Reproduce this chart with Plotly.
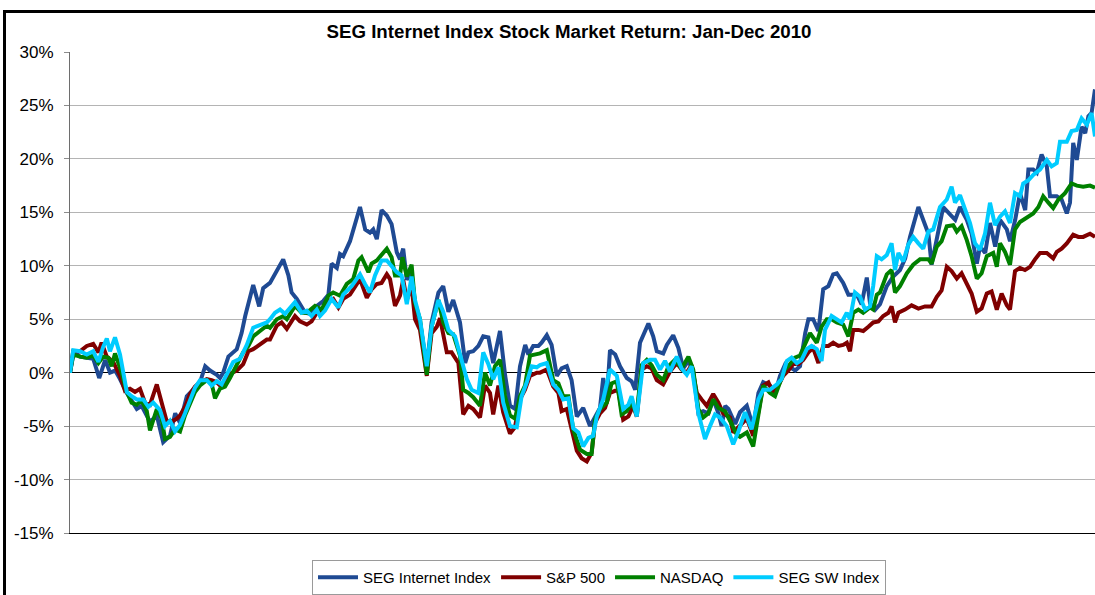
import plotly.graph_objects as go

title_text = "SEG Internet Index Stock Market Return: Jan-Dec 2010"
series_names = ["SEG Internet Index", "S&P 500", "NASDAQ", "SEG SW Index"]
series_colors = ["#1F4A93", "#800000", "#008000", "#00CCFF"]
y_tick_vals = [-15, -10, -5, 0, 5, 10, 15, 20, 25, 30]
y_tick_text = ["-15%", "-10%", "-5%", "0%", "5%", "10%", "15%", "20%", "25%", "30%"]

# trading-day position (x) and cumulative return in % (y)
seg_internet_day = [0, 1.0, 2.5, 4.2, 5.8, 7.3, 8.8, 10, 11.3, 12.5, 14.2, 15.4, 16.7, 17.9, 19.2, 20, 21.7, 23.3, 25, 26.3,
                    27.5, 29.2, 30.8, 32.5, 33.8, 35, 36.7, 37.5, 38.3, 39.6, 41.7, 42.9, 43.8, 45.8, 47.3, 48.3, 50, 53.3,
                    54.6, 55.4, 56.7, 57.9, 58.8, 60, 61.7, 63.3, 64.6, 65.4, 66.7, 67.5, 68.3, 70, 71.3, 72.5, 73.8, 75,
                    75.8, 76.7, 77.9, 79.2, 80.4, 81.7, 82.5, 83.3, 84.2, 85.4, 86.3, 87.5, 89.2, 90.4, 92.1, 93.3, 94.6,
                    95.8, 97.5, 98.8, 99.6, 100.8, 102.1, 103.3, 104.6, 105.8, 107.5, 108.8, 110, 111.3, 112.5, 113.8,
                    114.6, 115.8, 117.1, 117.9, 119.2, 120.4, 121.7, 122.9, 124.2, 125.4, 126.7, 128.3, 130, 131.3, 132.5,
                    133.3, 134.2, 135, 136.3, 137.5, 139.2, 140.4, 141.3, 142.5, 144.6, 145.8, 146.7, 148.3, 149.2, 150.8,
                    152.1, 153.3, 154.6, 155.8, 157.1, 158.3, 159.6, 160.8, 162.1, 162.9, 163.8, 164.6, 166.3, 167.5,
                    169.2, 170.8, 172.1, 173.3, 175, 176.3, 177.5, 178.8, 180, 181.3, 182.5, 183.8, 184.6, 185.8, 187.1,
                    188.3, 189.6, 190.8, 191.7, 193.3, 194.6, 196.7, 197.9, 199.2, 200, 201.3, 202.5, 204.2, 205.8, 207.5,
                    208.8, 210, 212.1, 213.8, 214.6, 215.4, 216.7, 218.3, 220, 221.3, 222.5, 224.2, 225.4, 226.7, 227.5,
                    228.8, 230, 231.3, 232.5, 234.2, 235, 236.3, 237.5, 238.8, 239.6, 240.8, 241.7, 242.9, 244.2, 245,
                    246.7, 247.9, 249.2, 250, 250.8, 251.7, 252.9, 253.8, 254.6, 255.4, 256.25]
seg_internet_ret = [0, 2.0, 1.5, 1.4, 1.3, -0.5, 1.2, 0.0, 0.2, -0.6, -1.9, -2.6, -3.4, -3.1, -4.0, -4.6, -4.0, -6.5, -5.9, -3.8,
                    -4.7, -2.2, -1.6, -0.9, 0.6, 0.2, -0.2, -0.5, 0.0, 1.5, 2.2, 3.7, 5.3, 8.2, 6.2, 7.9, 8.4, 10.6,
                    9.1, 7.5, 6.9, 6.1, 5.6, 5.5, 6.25, 6.7, 7.3, 10.2, 9.8, 11.1, 10.9, 12.3, 14.1, 15.5, 13.4, 13.1,
                    13.4, 12.5, 15.2, 14.7, 13.9, 11.25, 10.6, 11.6, 8.7, 9.3, 6.2, 4.7, 0.6, 4.7, 7.5, 8.1, 5.7,
                    6.8, 4.7, 0.9, 1.9, 2.0, 2.5, 3.4, 3.3, 0.9, 3.9, -0.3, -3.1, -3.4, 0.6, 2.6,
                    1.7, 2.5, 2.5, 2.8, 3.5, 2.6, -0.3, 0.4, 0.6, -0.7, -4.1, -3.3, -5.0, -4.2, -3.3,
                    -0.5, -2.5, 2.1, 1.7, 0.6, -0.5, -0.8, -1.6, 2.8, 4.6, 3.4, 2.0, 1.8, 2.6, 3.5,
                    2.3, 0.4, 1.1, 0.1, -3.8, -3.6, -3.8, -2.5, -3.8, -5.0, -3.1, -3.4, -4.8, -3.7,
                    -3.1, -5.1, -1.9, -0.9, -1.2, -1.9, -0.3, 0.8, 0.5, 0.2, 0.6, 3.7, 5.0, 5.0, 3.9,
                    7.8, 8.1, 9.2, 9.3, 8.4, 7.3, 7.3, 6.4, 8.9, 6.5, 5.9, 6.4, 8.1, 9.0, 9.6,
                    10.7, 12.7, 15.5, 13.7, 13.0, 10.1, 12.4, 15.5, 14.8, 14.3, 15.5, 14.3, 13.0, 10.2, 11.8,
                    11.2, 14.0, 11.8, 14.3, 13.4, 12.3, 14.3, 16.8, 15.2, 19.0, 19.0, 18.7, 20.4, 19.3, 16.5,
                    16.5, 16.2, 14.9, 15.9, 21.5, 19.9, 23.0, 22.4, 24.0, 24.3, 26.5]

sp500_day = [0, 0.8, 2.5, 4.2, 5.8, 7.1, 7.9, 9.2, 10.8, 12.5, 13.75, 15, 16.25, 17.5, 18.75, 20, 21.7, 22.9, 24.2, 25.8,
             26.7, 27.5, 28.75, 30, 31.25, 32.5, 34.2, 35.4, 36.7, 37.5, 38.75, 40, 41.7, 43.3, 44.6, 45.8, 47.5, 49.2,
             50, 51.7, 52.9, 54.2, 56.25, 57.5, 59.2, 60.4, 61.7, 63.3, 64.6, 65.8, 67.1, 68.3, 70, 71.25, 72.5, 74.2,
             75.4, 76.7, 77.9, 79.2, 80, 81.25, 82.5, 83.3, 84.2, 85.4, 86.25, 87.5, 89.2, 90.4, 91.7, 92.5, 94.2, 95.4,
             97.1, 98.3, 99.6, 100.8, 102.5, 103.75, 105, 105.8, 107.1, 108.3, 110, 111.25, 112.5, 113.75, 115, 116.7,
             117.5, 119.2, 120.8, 122.1, 122.9, 124.2, 125.4, 126.7, 127.9, 129.2, 130.4, 131.25, 132.5, 133.75, 135,
             136.25, 137.1, 138.3, 139.6, 140.8, 141.7, 142.9, 144.2, 145.4, 146.7, 148.3, 150, 151.7, 152.9, 154.2,
             155.4, 156.7, 157.9, 159.2, 160.8, 162.1, 163.3, 165, 165.8, 167.5, 169.2, 170.8, 172.1, 173.3, 174.6,
             175.8, 177.1, 178.3, 179.6, 180.8, 182.1, 183.3, 184.6, 185.8, 187.1, 188.3, 189.6, 190.8, 192.1, 193.3,
             194.2, 195, 195.8, 197.1, 198.3, 199.6, 200.8, 202.1, 203.3, 204.6, 205.4, 206.25, 207.1, 208.75, 210.4,
             212.1, 213.75, 215.4, 216.7, 217.9, 219.2, 220.4, 221.7, 222.9, 224.2, 225.4, 226.7, 227.9, 229.2, 230.4,
             231.7, 232.9, 234.2, 235, 236.25, 237.5, 238.75, 240, 241.25, 242.5, 244.2, 245.8, 246.7, 247.9, 249.2,
             250.8, 252.1, 253.3, 255, 256.25]
sp500_ret = [0, 2.0, 2.0, 2.5, 2.7, 1.9, 2.8, 1.5, 1.0, -0.3, -1.7, -1.5, -1.8, -1.5, -2.8, -3.0, -1.1, -2.8, -4.6, -4.5,
             -4.3, -4.0, -3.2, -2.0, -1.3, -0.9, -0.6, -0.7, -0.9, -1.2, -0.9, -0.1, 0.2, 0.8, 2.0, 2.2, 2.7, 3.1,
             3.1, 4.4, 4.7, 4.1, 5.3, 4.8, 4.5, 4.8, 5.6, 5.9, 6.7, 6.9, 6.1, 6.9, 7.3, 8.0, 8.75, 7.0,
             7.8, 8.3, 8.4, 9.2, 8.75, 6.25, 7.2, 8.7, 6.8, 8.1, 5.0, 4.0, -0.3, 3.7, 4.3, 5.1, 1.9, 1.9,
             0.9, -3.9, -3.1, -3.4, -4.2, -1.2, -1.9, -3.9, -1.2, -3.7, -5.7, -5.1, -2.5, -1.6, -0.3, 0.0,
             0.0, 0.3, -1.3, -1.9, -3.6, -3.4, -5.3, -7.3, -8.0, -8.3, -7.5, -4.7, -3.8, -3.3, -1.9,
             -1.7, -1.7, -4.4, -4.1, -3.1, -4.1, 0.3, 0.6, 0.4, -0.7, -1.1, 0.1, 0.9, 0.3, 0.0,
             0.7, -1.9, -2.5, -3.1, -2.0, -2.8, -3.8, -4.2, -5.6, -5.0, -4.3, -5.9, -3.7, -1.2, -0.9,
             -1.9, -1.2, -0.3, 0.2, 0.8, 0.8, 1.2, 1.9, 2.3, 0.9, 2.5, 2.5, 2.8, 2.5, 2.6,
             2.8, 2.0, 4.0, 4.0, 3.9, 4.3, 4.7, 4.8, 5.3, 5.6, 6.2, 4.7, 5.6, 5.9, 6.3,
             6.0, 6.2, 6.2, 7.1, 7.7, 9.9, 9.5, 8.8, 9.3, 8.4, 7.4, 5.7, 6.0, 7.4, 7.6,
             5.9, 7.4, 6.3, 5.9, 9.5, 9.8, 9.6, 9.9, 10.6, 11.2, 11.2, 10.7, 11.3, 11.6, 12.1,
             12.9, 12.7, 12.7, 13.0, 12.7]

nasdaq_day = [0, 0.8, 2.5, 4.2, 5.8, 7.1, 8.3, 9.6, 10.4, 11.25, 12.9, 14.2, 15.4, 16.7, 17.9, 19.2, 20, 21.7, 22.9, 23.75,
              25, 26.25, 27.5, 28.75, 30, 31.25, 32.5, 34.2, 35.4, 36.25, 37.5, 38.75, 40, 41.7, 43.3, 44.6, 45.8, 47.5,
              49.2, 50, 51.7, 53.3, 54.2, 56.25, 57.9, 59.2, 61.25, 62.9, 64.6, 65.8, 67.5, 69.2, 70.8, 72.1, 72.9,
              74.6, 75.4, 76.7, 77.9, 79.2, 80.4, 81.25, 82.5, 83.1, 84.2, 85.4, 86.25, 87.5, 89.2, 90.4, 92.1, 93.3,
              94.6, 95.8, 97.5, 98.3, 99.6, 100.8, 102.5, 103.75, 105, 106.25, 107.5, 108.75, 110, 111.25, 112.5,
              113.75, 115, 116.25, 117.5, 119.2, 120.8, 122.1, 123.3, 124.6, 125.8, 127.5, 129.2, 130.4, 131.25,
              132.5, 134.2, 135.4, 136.7, 137.9, 139.2, 140.4, 141.7, 142.9, 144.2, 145.4, 146.7, 148.3, 149.6,
              151.25, 152.9, 154.6, 155.8, 157.1, 158.3, 159.6, 160.8, 162.1, 163.75, 165.4, 166.7, 167.5, 169.2,
              170.8, 172.1, 173.3, 175, 176.25, 177.5, 178.75, 180, 181.25, 182.5, 183.75, 185, 186.7, 187.9, 189.2,
              190.4, 191.7, 193.3, 194.6, 195.8, 197.1, 198.3, 200, 200.8, 201.7, 202.5, 204.2, 205.4, 206.25,
              207.5, 209.2, 210.8, 212.5, 214.6, 215.4, 216.7, 217.9, 219.2, 220.8, 221.7, 222.9, 224.2, 225.4,
              226.7, 227.9, 229.2, 230.8, 231.7, 232.5, 233.75, 235, 236.25, 237.5, 239.2, 240.8, 242.1, 243.3,
              244.6, 245.8, 247.1, 248.75, 250.4, 251.7, 253.3, 255, 256.25]
nasdaq_ret = [0, 1.7, 1.5, 1.4, 1.6, 0.9, 1.5, 1.4, 0.6, 1.8, 0.0, -1.8, -2.8, -3.0, -2.6, -3.6, -5.4, -3.4, -4.3, -6.2,
              -6.0, -5.3, -5.5, -4.0, -2.9, -1.8, -1.2, -0.7, -1.0, -2.4, -1.5, -1.3, -0.5, 0.7, 1.9, 2.5, 3.4, 3.9,
              4.4, 4.2, 5.0, 5.3, 5.0, 6.25, 5.6, 5.6, 6.25, 5.9, 7.2, 7.5, 7.2, 8.3, 8.75, 10.5, 10.8,
              9.4, 10.2, 10.5, 11.1, 11.6, 10.8, 9.1, 9.1, 10.8, 9.0, 10.1, 6.5, 5.0, -0.2, 4.3, 6.8, 4.7,
              3.7, 3.6, 1.6, -1.6, -1.9, -2.3, -3.1, 0.0, -1.2, 0.6, 1.2, -2.2, -4.0, -4.3, -2.2,
              -1.2, 1.6, 1.7, 1.8, 2.1, -0.7, -1.0, -2.2, -2.2, -5.3, -7.2, -7.6, -7.6, -4.4,
              -3.4, -2.8, -1.0, -0.8, -3.9, -3.6, -2.8, -3.9, 0.7, 1.2, 0.7, -0.2, -0.7, 0.6,
              1.2, 0.4, 1.5, 0.3, -3.4, -4.2, -3.8, -2.5, -3.3, -3.6, -4.8, -5.8, -6.0, -5.6,
              -6.9, -4.0, -1.2, -1.9, -2.2, -0.9, 0.3, 0.8, 1.4, 1.6, 2.6, 3.7, 2.8, 4.3, 5.0,
              5.0, 4.7, 4.5, 3.4, 5.6, 5.9, 5.6, 6.1, 5.9, 7.3, 7.5, 9.2, 9.6, 7.5,
              8.1, 9.3, 10.1, 10.6, 10.6, 10.2, 11.8, 12.3, 13.7, 13.8, 13.2, 13.7, 12.4, 10.9,
              8.8, 9.3, 10.9, 11.2, 9.9, 12.1, 11.3, 10.1, 13.4, 14.1, 14.5, 14.9, 15.5, 16.5,
              15.9, 15.4, 16.2, 16.8, 17.7, 17.5, 17.4, 17.5, 17.3]

seg_sw_day = [0, 0.8, 2.5, 4.2, 5.8, 7.1, 8.3, 9.2, 10, 11.25, 12.5, 14.2, 15.4, 16.7, 18.3, 19.6, 20.8, 22.5, 23.75, 25,
              26.25, 27.5, 28.75, 30, 31.25, 32.5, 34.2, 35.4, 36.7, 37.9, 39.6, 40.8, 42.5, 44.2, 45.8, 47.5, 49.2,
              50, 51.25, 52.5, 53.75, 56.25, 57.9, 59.2, 60.4, 61.7, 62.5, 63.75, 65.4, 67.1, 68.3, 70.4, 72.5, 73.75,
              75, 76.25, 77.9, 79.2, 80.4, 81.7, 82.9, 84.2, 85.4, 86.25, 87.5, 89.2, 90.4, 92.1, 93.3, 94.6, 96.25,
              97.9, 99.2, 100.4, 102.1, 103.3, 104.6, 105.8, 107.1, 108.3, 110, 111.7, 112.9, 114.2, 115.4, 116.7,
              117.5, 119.2, 120.8, 122.1, 123.3, 124.6, 125.8, 127.1, 128.3, 129.6, 130.8, 131.7, 133.3, 135, 136.7,
              138.3, 139.6, 140.4, 141.7, 143.3, 145, 146.25, 147.5, 148.75, 150, 151.7, 152.9, 154.2, 155.4, 157.1,
              158.75, 160, 161.25, 162.5, 164.2, 165.8, 167.1, 168.75, 170.4, 172.1, 173.3, 175, 176.7, 177.9,
              179.2, 180.4, 181.7, 182.9, 184.2, 185.4, 186.7, 187.9, 188.75, 190.4, 191.7, 192.9, 194.2, 195,
              196.25, 197.5, 198.75, 200, 200.8, 201.7, 202.9, 204.2, 205.4, 206.25, 207.1, 208.3, 209.6, 210.8,
              212.1, 213.3, 214.6, 215.8, 217.5, 219.2, 220.4, 221.25, 222.5, 223.75, 225, 226.25, 227.5, 228.75,
              230, 231.25, 232.5, 233.75, 235, 236.25, 237.5, 238.3, 239.6, 240.8, 242.5, 244.2, 245.4, 246.7,
              247.5, 249.2, 250.4, 251.7, 252.9, 254.2, 255.4, 256.25]
seg_sw_ret = [0, 2.1, 2.0, 1.7, 2.0, 1.0, 2.4, 3.2, 2.0, 3.3, 1.7, -1.8, -2.2, -2.5, -2.5, -3.2, -2.8, -3.5, -5.0, -4.5,
              -5.5, -4.9, -3.8, -2.6, -1.4, -0.7, -0.7, -1.2, -0.8, -1.1, 0.2, 1.0, 1.3, 2.6, 4.2, 4.5, 4.7,
              5.0, 5.6, 5.9, 5.5, 6.6, 5.6, 5.8, 5.3, 5.9, 5.3, 5.8, 6.9, 6.1, 7.3, 8.1, 9.2, 8.3,
              7.5, 9.1, 10.5, 10.5, 10.0, 9.4, 9.1, 6.4, 9.0, 6.8, 5.0, 0.6, 4.3, 6.8, 5.7, 4.0, 3.4,
              1.2, -0.6, -1.6, -1.9, 1.9, 0.8, -0.6, 0.5, -2.8, -5.0, -5.1, -2.2, -0.9, 0.6, 0.5,
              0.7, 0.9, -1.1, -1.6, -2.5, -2.4, -5.2, -5.6, -6.9, -6.1, -5.9, -4.1, -2.5, 0.3, -0.3,
              -3.4, -3.0, -2.2, -4.1, 0.9, 1.2, 1.2, 0.3, 1.1, 0.1, 1.5, 0.4, -0.2, 0.6, -3.8,
              -6.2, -5.0, -3.9, -4.2, -5.0, -6.7, -5.5, -3.7, -5.3, -2.5, -1.6, -1.6, -1.1, -0.6,
              1.1, 1.4, 0.9, 1.2, 2.2, 2.5, 2.2, 1.1, 4.0, 5.3, 5.0, 4.7, 5.6, 5.0,
              7.5, 7.1, 5.9, 6.2, 8.1, 10.9, 10.6, 11.0, 12.1, 9.6, 11.2, 10.4, 12.0, 12.7,
              12.1, 11.6, 13.2, 13.4, 15.5, 16.2, 17.4, 15.9, 16.6, 15.2, 14.0, 12.1, 11.5, 13.0,
              15.9, 13.8, 14.6, 15.1, 14.0, 16.8, 16.5, 17.7, 18.0, 18.5, 19.0, 19.9, 19.3, 19.6,
              21.6, 21.6, 22.6, 22.7, 23.8, 23.2, 24.3, 22.1]

series_days = [seg_internet_day, sp500_day, nasdaq_day, seg_sw_day]
series_rets = [seg_internet_ret, sp500_ret, nasdaq_ret, seg_sw_ret]

FONT = "Liberation Sans, Arial, Helvetica, sans-serif"

fig = go.Figure()
for name, color, xd, yd in zip(series_names, series_colors, series_days, series_rets):
    fig.add_trace(go.Scatter(x=xd, y=yd, mode="lines", name=name, hoverinfo="skip",
                             line=dict(color=color, width=4), cliponaxis=True))

# plot area: x 70..1095 px, y 52..534 px
fig.update_layout(
    width=1095, height=595,
    margin=dict(l=70, r=0, t=52, b=61, pad=0),
    paper_bgcolor="white", plot_bgcolor="white",
    font=dict(family=FONT, color="black"),
    title=dict(text="<b>" + title_text + "</b>", font=dict(size=18.7, family=FONT, color="black"),
               x=569 / 1095, xref="container", xanchor="center",
               y=1 - 31 / 595, yref="container", yanchor="middle"),
    showlegend=True,
    legend=dict(orientation="h", x=(599 - 70) / 1025, xanchor="center",
                y=(534 - 561) / 482, yanchor="top",
                bordercolor="#9a9a9a", borderwidth=1, bgcolor="white",
                font=dict(size=15, family=FONT, color="black"),
                itemwidth=40, traceorder="normal"),
    shapes=[dict(type="rect", xref="paper", yref="paper",
                 x0=(4.5 - 70) / 1025, x1=1.05, y0=-0.3, y1=1 + (52 - 11.5) / 482,
                 line=dict(color="black", width=3), layer="above")],
)
fig.update_xaxes(range=[0, 256.25], showgrid=False, showticklabels=False, ticks="",
                 showline=True, linecolor="black", linewidth=1, zeroline=False, fixedrange=True)
fig.update_yaxes(range=[-15, 30], tickvals=y_tick_vals, ticktext=y_tick_text,
                 showgrid=True, gridcolor="#b4b4b4", gridwidth=1,
                 zeroline=True, zerolinecolor="black", zerolinewidth=1,
                 showline=True, linecolor="#6e6e6e", linewidth=1,
                 ticks="outside", ticklen=5, tickcolor="#8c8c8c",
                 tickfont=dict(size=17, family=FONT, color="black"),
                 ticklabelstandoff=7, fixedrange=True)

fig.write_html("out.html", config={"displayModeBar": False, "staticPlot": True},
               post_script="document.body.style.margin='0';document.body.style.overflow='hidden';")
